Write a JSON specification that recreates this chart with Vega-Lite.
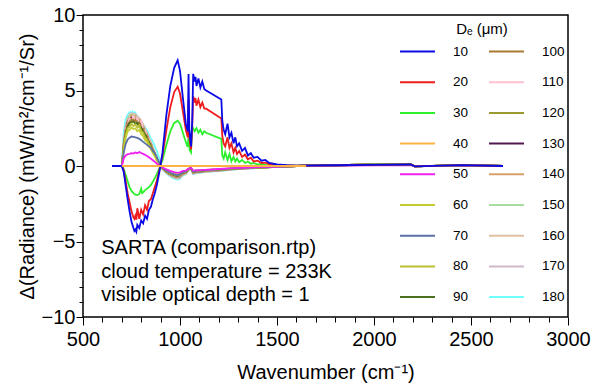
{
"$schema":"https://vega.github.io/schema/vega-lite/v6.json",
"width":485,"height":302,
"autosize":{"type":"none"},
"padding":{"left":83,"top":15,"right":23,"bottom":66},
"config":{"font":"Liberation Sans","view":{"stroke":"black","strokeWidth":1.5},
 "axis":{"grid":false,"domain":false,"ticks":true,"tickColor":"black","tickWidth":1,"tickOpacity":1,"labelColor":"black","labelFontSize":20,"labelOverlap":false,"labelFlush":false,"labelBound":false,"titleFontSize":20,"titleFontWeight":"normal","titleColor":"black"}},
"resolve":{"axis":{"x":"independent","y":"independent"}},
"layer":[
{"data":{"values":[
{"De":"180","wn":650,"dR":0},{"De":"180","wn":700,"dR":0},{"De":"180","wn":705,"dR":1.2},{"De":"180","wn":710,"dR":2.2},{"De":"180","wn":718,"dR":3.0},{"De":"180","wn":730,"dR":3.4},{"De":"180","wn":743,"dR":3.58},{"De":"180","wn":750,"dR":3.45},{"De":"180","wn":755,"dR":3.6},{"De":"180","wn":762,"dR":3.4},{"De":"180","wn":768,"dR":3.55},{"De":"180","wn":780,"dR":3.3},{"De":"180","wn":795,"dR":3.05},{"De":"180","wn":810,"dR":2.75},{"De":"180","wn":830,"dR":2.37},{"De":"180","wn":845,"dR":1.95},{"De":"180","wn":864,"dR":1.5},{"De":"180","wn":880,"dR":1.0},{"De":"180","wn":890,"dR":0.65},{"De":"180","wn":905,"dR":0},{"De":"180","wn":910,"dR":-0.15},{"De":"180","wn":930,"dR":-0.5},{"De":"180","wn":950,"dR":-0.7},{"De":"180","wn":970,"dR":-0.85},{"De":"180","wn":988,"dR":-0.9},{"De":"180","wn":1000,"dR":-0.85},{"De":"180","wn":1015,"dR":-0.62},{"De":"180","wn":1030,"dR":-0.55},{"De":"180","wn":1044,"dR":-0.28},{"De":"180","wn":1057,"dR":-0.2},{"De":"180","wn":1068,"dR":-0.55},{"De":"180","wn":1085,"dR":-0.48},{"De":"180","wn":1100,"dR":-0.45},{"De":"180","wn":1130,"dR":-0.4},{"De":"180","wn":1200,"dR":-0.33},{"De":"180","wn":1250,"dR":-0.27},{"De":"180","wn":1300,"dR":-0.2},{"De":"180","wn":1400,"dR":-0.13},{"De":"180","wn":1500,"dR":-0.06},{"De":"180","wn":1600,"dR":0},{"De":"180","wn":2000,"dR":0.1},{"De":"180","wn":2190,"dR":0.11},{"De":"180","wn":2210,"dR":-0.03},{"De":"180","wn":2450,"dR":0.06},{"De":"180","wn":2665,"dR":0},

{"De":"170","wn":650,"dR":0},{"De":"170","wn":700,"dR":0},{"De":"170","wn":705,"dR":0.72},{"De":"170","wn":710,"dR":1.62},{"De":"170","wn":720,"dR":2.65},{"De":"170","wn":730,"dR":3.15},{"De":"170","wn":740,"dR":3.4},{"De":"170","wn":750,"dR":3.5},{"De":"170","wn":760,"dR":3.48},{"De":"170","wn":770,"dR":3.42},{"De":"170","wn":780,"dR":3.3},{"De":"170","wn":790,"dR":3.15},{"De":"170","wn":800,"dR":3.0},{"De":"170","wn":810,"dR":2.75},{"De":"170","wn":820,"dR":2.47},{"De":"170","wn":830,"dR":2.2},{"De":"170","wn":840,"dR":1.87},{"De":"170","wn":850,"dR":1.55},{"De":"170","wn":860,"dR":1.24},{"De":"170","wn":870,"dR":0.88},{"De":"170","wn":880,"dR":0.57},{"De":"170","wn":895,"dR":0.07},{"De":"170","wn":910,"dR":-0.2},{"De":"170","wn":930,"dR":-0.45},{"De":"170","wn":950,"dR":-0.65},{"De":"170","wn":970,"dR":-0.78},{"De":"170","wn":988,"dR":-0.85},{"De":"170","wn":1000,"dR":-0.78},{"De":"170","wn":1015,"dR":-0.58},{"De":"170","wn":1030,"dR":-0.52},{"De":"170","wn":1044,"dR":-0.26},{"De":"170","wn":1057,"dR":-0.2},{"De":"170","wn":1068,"dR":-0.52},{"De":"170","wn":1085,"dR":-0.45},{"De":"170","wn":1100,"dR":-0.43},{"De":"170","wn":1130,"dR":-0.39},{"De":"170","wn":1200,"dR":-0.32},{"De":"170","wn":1250,"dR":-0.26},{"De":"170","wn":1300,"dR":-0.2},{"De":"170","wn":1400,"dR":-0.13},{"De":"170","wn":1500,"dR":-0.06},{"De":"170","wn":1600,"dR":0},{"De":"170","wn":2000,"dR":0.1},{"De":"170","wn":2190,"dR":0.11},{"De":"170","wn":2210,"dR":-0.03},{"De":"170","wn":2450,"dR":0.06},{"De":"170","wn":2665,"dR":0},

{"De":"160","wn":650,"dR":0},{"De":"160","wn":700,"dR":0},{"De":"160","wn":705,"dR":0.7},{"De":"160","wn":710,"dR":1.6},{"De":"160","wn":720,"dR":2.6},{"De":"160","wn":730,"dR":3.1},{"De":"160","wn":740,"dR":3.35},{"De":"160","wn":750,"dR":3.45},{"De":"160","wn":760,"dR":3.42},{"De":"160","wn":770,"dR":3.35},{"De":"160","wn":780,"dR":3.25},{"De":"160","wn":790,"dR":3.1},{"De":"160","wn":800,"dR":2.95},{"De":"160","wn":810,"dR":2.7},{"De":"160","wn":820,"dR":2.42},{"De":"160","wn":830,"dR":2.15},{"De":"160","wn":840,"dR":1.83},{"De":"160","wn":850,"dR":1.52},{"De":"160","wn":860,"dR":1.22},{"De":"160","wn":870,"dR":0.87},{"De":"160","wn":880,"dR":0.56},{"De":"160","wn":895,"dR":0.07},{"De":"160","wn":910,"dR":-0.19},{"De":"160","wn":930,"dR":-0.44},{"De":"160","wn":950,"dR":-0.62},{"De":"160","wn":970,"dR":-0.75},{"De":"160","wn":988,"dR":-0.81},{"De":"160","wn":1000,"dR":-0.75},{"De":"160","wn":1015,"dR":-0.56},{"De":"160","wn":1030,"dR":-0.5},{"De":"160","wn":1044,"dR":-0.25},{"De":"160","wn":1057,"dR":-0.19},{"De":"160","wn":1068,"dR":-0.5},{"De":"160","wn":1085,"dR":-0.44},{"De":"160","wn":1100,"dR":-0.41},{"De":"160","wn":1130,"dR":-0.37},{"De":"160","wn":1200,"dR":-0.31},{"De":"160","wn":1250,"dR":-0.25},{"De":"160","wn":1300,"dR":-0.19},{"De":"160","wn":1400,"dR":-0.12},{"De":"160","wn":1500,"dR":-0.06},{"De":"160","wn":1600,"dR":0},{"De":"160","wn":2000,"dR":0.1},{"De":"160","wn":2190,"dR":0.11},{"De":"160","wn":2210,"dR":-0.03},{"De":"160","wn":2450,"dR":0.06},{"De":"160","wn":2665,"dR":0},

{"De":"150","wn":650,"dR":0},{"De":"150","wn":700,"dR":0},{"De":"150","wn":705,"dR":0.7},{"De":"150","wn":710,"dR":1.55},{"De":"150","wn":720,"dR":2.55},{"De":"150","wn":730,"dR":3.05},{"De":"150","wn":740,"dR":3.3},{"De":"150","wn":750,"dR":3.4},{"De":"150","wn":760,"dR":3.38},{"De":"150","wn":770,"dR":3.3},{"De":"150","wn":780,"dR":3.2},{"De":"150","wn":790,"dR":3.05},{"De":"150","wn":800,"dR":2.9},{"De":"150","wn":810,"dR":2.65},{"De":"150","wn":820,"dR":2.4},{"De":"150","wn":830,"dR":2.1},{"De":"150","wn":840,"dR":1.8},{"De":"150","wn":850,"dR":1.5},{"De":"150","wn":860,"dR":1.2},{"De":"150","wn":870,"dR":0.85},{"De":"150","wn":880,"dR":0.55},{"De":"150","wn":895,"dR":0.07},{"De":"150","wn":910,"dR":-0.18},{"De":"150","wn":930,"dR":-0.42},{"De":"150","wn":950,"dR":-0.6},{"De":"150","wn":970,"dR":-0.72},{"De":"150","wn":988,"dR":-0.78},{"De":"150","wn":1000,"dR":-0.72},{"De":"150","wn":1015,"dR":-0.54},{"De":"150","wn":1030,"dR":-0.48},{"De":"150","wn":1044,"dR":-0.24},{"De":"150","wn":1057,"dR":-0.18},{"De":"150","wn":1068,"dR":-0.48},{"De":"150","wn":1085,"dR":-0.42},{"De":"150","wn":1100,"dR":-0.4},{"De":"150","wn":1130,"dR":-0.36},{"De":"150","wn":1200,"dR":-0.3},{"De":"150","wn":1250,"dR":-0.24},{"De":"150","wn":1300,"dR":-0.18},{"De":"150","wn":1400,"dR":-0.12},{"De":"150","wn":1500,"dR":-0.06},{"De":"150","wn":1600,"dR":0},{"De":"150","wn":2000,"dR":0.1},{"De":"150","wn":2190,"dR":0.11},{"De":"150","wn":2210,"dR":-0.03},{"De":"150","wn":2450,"dR":0.06},{"De":"150","wn":2665,"dR":0},

{"De":"140","wn":650,"dR":0},{"De":"140","wn":700,"dR":0},{"De":"140","wn":705,"dR":0.66},{"De":"140","wn":710,"dR":1.5},{"De":"140","wn":720,"dR":2.45},{"De":"140","wn":730,"dR":3.0},{"De":"140","wn":740,"dR":3.15},{"De":"140","wn":750,"dR":3.35},{"De":"140","wn":760,"dR":3.2},{"De":"140","wn":770,"dR":3.3},{"De":"140","wn":780,"dR":3.05},{"De":"140","wn":790,"dR":3.1},{"De":"140","wn":800,"dR":2.7},{"De":"140","wn":810,"dR":2.65},{"De":"140","wn":820,"dR":2.25},{"De":"140","wn":830,"dR":2.1},{"De":"140","wn":840,"dR":1.72},{"De":"140","wn":850,"dR":1.5},{"De":"140","wn":860,"dR":1.12},{"De":"140","wn":870,"dR":0.85},{"De":"140","wn":880,"dR":0.52},{"De":"140","wn":895,"dR":0.07},{"De":"140","wn":910,"dR":-0.17},{"De":"140","wn":930,"dR":-0.41},{"De":"140","wn":950,"dR":-0.58},{"De":"140","wn":970,"dR":-0.7},{"De":"140","wn":988,"dR":-0.75},{"De":"140","wn":1000,"dR":-0.7},{"De":"140","wn":1015,"dR":-0.52},{"De":"140","wn":1030,"dR":-0.46},{"De":"140","wn":1044,"dR":-0.23},{"De":"140","wn":1057,"dR":-0.17},{"De":"140","wn":1068,"dR":-0.46},{"De":"140","wn":1085,"dR":-0.41},{"De":"140","wn":1100,"dR":-0.38},{"De":"140","wn":1130,"dR":-0.35},{"De":"140","wn":1200,"dR":-0.29},{"De":"140","wn":1250,"dR":-0.23},{"De":"140","wn":1300,"dR":-0.17},{"De":"140","wn":1400,"dR":-0.12},{"De":"140","wn":1500,"dR":-0.06},{"De":"140","wn":1600,"dR":0},{"De":"140","wn":2000,"dR":0.1},{"De":"140","wn":2190,"dR":0.11},{"De":"140","wn":2210,"dR":-0.03},{"De":"140","wn":2450,"dR":0.06},{"De":"140","wn":2665,"dR":0},

{"De":"130","wn":650,"dR":0},{"De":"130","wn":700,"dR":0},{"De":"130","wn":705,"dR":0.64},{"De":"130","wn":710,"dR":1.44},{"De":"130","wn":720,"dR":2.4},{"De":"130","wn":730,"dR":2.9},{"De":"130","wn":740,"dR":3.1},{"De":"130","wn":750,"dR":3.2},{"De":"130","wn":760,"dR":3.15},{"De":"130","wn":770,"dR":3.1},{"De":"130","wn":780,"dR":3.05},{"De":"130","wn":790,"dR":2.9},{"De":"130","wn":800,"dR":2.75},{"De":"130","wn":810,"dR":2.5},{"De":"130","wn":820,"dR":2.25},{"De":"130","wn":830,"dR":2.0},{"De":"130","wn":840,"dR":1.72},{"De":"130","wn":850,"dR":1.42},{"De":"130","wn":860,"dR":1.13},{"De":"130","wn":870,"dR":0.8},{"De":"130","wn":880,"dR":0.52},{"De":"130","wn":895,"dR":0.06},{"De":"130","wn":910,"dR":-0.17},{"De":"130","wn":930,"dR":-0.39},{"De":"130","wn":950,"dR":-0.56},{"De":"130","wn":970,"dR":-0.67},{"De":"130","wn":988,"dR":-0.73},{"De":"130","wn":1000,"dR":-0.67},{"De":"130","wn":1015,"dR":-0.5},{"De":"130","wn":1030,"dR":-0.45},{"De":"130","wn":1044,"dR":-0.22},{"De":"130","wn":1057,"dR":-0.17},{"De":"130","wn":1068,"dR":-0.45},{"De":"130","wn":1085,"dR":-0.39},{"De":"130","wn":1100,"dR":-0.37},{"De":"130","wn":1130,"dR":-0.34},{"De":"130","wn":1200,"dR":-0.28},{"De":"130","wn":1250,"dR":-0.22},{"De":"130","wn":1300,"dR":-0.17},{"De":"130","wn":1400,"dR":-0.11},{"De":"130","wn":1500,"dR":-0.06},{"De":"130","wn":1600,"dR":0},{"De":"130","wn":2000,"dR":0.1},{"De":"130","wn":2190,"dR":0.11},{"De":"130","wn":2210,"dR":-0.03},{"De":"130","wn":2450,"dR":0.06},{"De":"130","wn":2665,"dR":0},

{"De":"120","wn":650,"dR":0},{"De":"120","wn":700,"dR":0},{"De":"120","wn":705,"dR":0.62},{"De":"120","wn":710,"dR":1.38},{"De":"120","wn":720,"dR":2.3},{"De":"120","wn":730,"dR":2.75},{"De":"120","wn":740,"dR":3.05},{"De":"120","wn":750,"dR":3.0},{"De":"120","wn":760,"dR":3.1},{"De":"120","wn":770,"dR":2.95},{"De":"120","wn":780,"dR":3.0},{"De":"120","wn":790,"dR":2.75},{"De":"120","wn":800,"dR":2.7},{"De":"120","wn":810,"dR":2.4},{"De":"120","wn":820,"dR":2.2},{"De":"120","wn":830,"dR":1.9},{"De":"120","wn":840,"dR":1.7},{"De":"120","wn":850,"dR":1.35},{"De":"120","wn":860,"dR":1.12},{"De":"120","wn":870,"dR":0.78},{"De":"120","wn":880,"dR":0.52},{"De":"120","wn":895,"dR":0.06},{"De":"120","wn":910,"dR":-0.16},{"De":"120","wn":930,"dR":-0.38},{"De":"120","wn":950,"dR":-0.54},{"De":"120","wn":970,"dR":-0.65},{"De":"120","wn":988,"dR":-0.7},{"De":"120","wn":1000,"dR":-0.65},{"De":"120","wn":1015,"dR":-0.49},{"De":"120","wn":1030,"dR":-0.43},{"De":"120","wn":1044,"dR":-0.22},{"De":"120","wn":1057,"dR":-0.16},{"De":"120","wn":1068,"dR":-0.43},{"De":"120","wn":1085,"dR":-0.38},{"De":"120","wn":1100,"dR":-0.36},{"De":"120","wn":1130,"dR":-0.32},{"De":"120","wn":1200,"dR":-0.27},{"De":"120","wn":1250,"dR":-0.22},{"De":"120","wn":1300,"dR":-0.16},{"De":"120","wn":1400,"dR":-0.11},{"De":"120","wn":1500,"dR":-0.05},{"De":"120","wn":1600,"dR":0},{"De":"120","wn":2000,"dR":0.1},{"De":"120","wn":2190,"dR":0.11},{"De":"120","wn":2210,"dR":-0.03},{"De":"120","wn":2450,"dR":0.06},{"De":"120","wn":2665,"dR":0},

{"De":"110","wn":650,"dR":0},{"De":"110","wn":700,"dR":0},{"De":"110","wn":705,"dR":0.65},{"De":"110","wn":710,"dR":1.45},{"De":"110","wn":720,"dR":2.45},{"De":"110","wn":730,"dR":2.85},{"De":"110","wn":740,"dR":3.15},{"De":"110","wn":750,"dR":3.05},{"De":"110","wn":760,"dR":3.3},{"De":"110","wn":770,"dR":3.0},{"De":"110","wn":780,"dR":3.2},{"De":"110","wn":790,"dR":2.85},{"De":"110","wn":800,"dR":3.0},{"De":"110","wn":810,"dR":2.45},{"De":"110","wn":820,"dR":2.35},{"De":"110","wn":830,"dR":1.95},{"De":"110","wn":840,"dR":1.8},{"De":"110","wn":850,"dR":1.4},{"De":"110","wn":860,"dR":1.2},{"De":"110","wn":870,"dR":0.8},{"De":"110","wn":880,"dR":0.55},{"De":"110","wn":895,"dR":0.06},{"De":"110","wn":910,"dR":-0.17},{"De":"110","wn":930,"dR":-0.38},{"De":"110","wn":950,"dR":-0.55},{"De":"110","wn":970,"dR":-0.66},{"De":"110","wn":988,"dR":-0.72},{"De":"110","wn":1000,"dR":-0.66},{"De":"110","wn":1015,"dR":-0.5},{"De":"110","wn":1030,"dR":-0.44},{"De":"110","wn":1044,"dR":-0.22},{"De":"110","wn":1057,"dR":-0.17},{"De":"110","wn":1068,"dR":-0.44},{"De":"110","wn":1085,"dR":-0.39},{"De":"110","wn":1100,"dR":-0.36},{"De":"110","wn":1130,"dR":-0.33},{"De":"110","wn":1200,"dR":-0.28},{"De":"110","wn":1250,"dR":-0.22},{"De":"110","wn":1300,"dR":-0.17},{"De":"110","wn":1400,"dR":-0.11},{"De":"110","wn":1500,"dR":-0.06},{"De":"110","wn":1600,"dR":0},{"De":"110","wn":2000,"dR":0.11},{"De":"110","wn":2190,"dR":0.12},{"De":"110","wn":2210,"dR":-0.03},{"De":"110","wn":2450,"dR":0.07},{"De":"110","wn":2665,"dR":0},

{"De":"100","wn":650,"dR":0},{"De":"100","wn":700,"dR":0},{"De":"100","wn":705,"dR":0.6},{"De":"100","wn":710,"dR":1.4},{"De":"100","wn":720,"dR":2.25},{"De":"100","wn":730,"dR":2.8},{"De":"100","wn":740,"dR":2.9},{"De":"100","wn":750,"dR":3.1},{"De":"100","wn":760,"dR":2.95},{"De":"100","wn":770,"dR":3.05},{"De":"100","wn":780,"dR":2.8},{"De":"100","wn":790,"dR":2.9},{"De":"100","wn":800,"dR":2.5},{"De":"100","wn":810,"dR":2.45},{"De":"100","wn":820,"dR":2.1},{"De":"100","wn":830,"dR":1.95},{"De":"100","wn":840,"dR":1.6},{"De":"100","wn":850,"dR":1.4},{"De":"100","wn":860,"dR":1.05},{"De":"100","wn":870,"dR":0.8},{"De":"100","wn":880,"dR":0.48},{"De":"100","wn":895,"dR":0.06},{"De":"100","wn":910,"dR":-0.16},{"De":"100","wn":930,"dR":-0.37},{"De":"100","wn":950,"dR":-0.52},{"De":"100","wn":970,"dR":-0.63},{"De":"100","wn":988,"dR":-0.68},{"De":"100","wn":1000,"dR":-0.63},{"De":"100","wn":1015,"dR":-0.47},{"De":"100","wn":1030,"dR":-0.42},{"De":"100","wn":1044,"dR":-0.21},{"De":"100","wn":1057,"dR":-0.16},{"De":"100","wn":1068,"dR":-0.42},{"De":"100","wn":1085,"dR":-0.37},{"De":"100","wn":1100,"dR":-0.35},{"De":"100","wn":1130,"dR":-0.31},{"De":"100","wn":1200,"dR":-0.26},{"De":"100","wn":1250,"dR":-0.21},{"De":"100","wn":1300,"dR":-0.16},{"De":"100","wn":1400,"dR":-0.1},{"De":"100","wn":1500,"dR":-0.05},{"De":"100","wn":1600,"dR":0},{"De":"100","wn":2000,"dR":0.1},{"De":"100","wn":2190,"dR":0.11},{"De":"100","wn":2210,"dR":-0.03},{"De":"100","wn":2450,"dR":0.07},{"De":"100","wn":2665,"dR":0},

{"De":"90","wn":650,"dR":0},{"De":"90","wn":700,"dR":0},{"De":"90","wn":705,"dR":0.58},{"De":"90","wn":710,"dR":1.3},{"De":"90","wn":720,"dR":2.2},{"De":"90","wn":730,"dR":2.6},{"De":"90","wn":740,"dR":2.85},{"De":"90","wn":750,"dR":2.9},{"De":"90","wn":760,"dR":2.95},{"De":"90","wn":770,"dR":2.8},{"De":"90","wn":780,"dR":2.85},{"De":"90","wn":790,"dR":2.6},{"De":"90","wn":800,"dR":2.55},{"De":"90","wn":810,"dR":2.25},{"De":"90","wn":820,"dR":2.1},{"De":"90","wn":830,"dR":1.8},{"De":"90","wn":840,"dR":1.6},{"De":"90","wn":850,"dR":1.28},{"De":"90","wn":860,"dR":1.05},{"De":"90","wn":870,"dR":0.72},{"De":"90","wn":880,"dR":0.48},{"De":"90","wn":895,"dR":0.06},{"De":"90","wn":910,"dR":-0.15},{"De":"90","wn":930,"dR":-0.35},{"De":"90","wn":950,"dR":-0.5},{"De":"90","wn":970,"dR":-0.6},{"De":"90","wn":988,"dR":-0.65},{"De":"90","wn":1000,"dR":-0.6},{"De":"90","wn":1015,"dR":-0.45},{"De":"90","wn":1030,"dR":-0.4},{"De":"90","wn":1044,"dR":-0.2},{"De":"90","wn":1057,"dR":-0.15},{"De":"90","wn":1068,"dR":-0.4},{"De":"90","wn":1085,"dR":-0.35},{"De":"90","wn":1100,"dR":-0.33},{"De":"90","wn":1130,"dR":-0.3},{"De":"90","wn":1200,"dR":-0.25},{"De":"90","wn":1250,"dR":-0.2},{"De":"90","wn":1300,"dR":-0.15},{"De":"90","wn":1400,"dR":-0.1},{"De":"90","wn":1500,"dR":-0.05},{"De":"90","wn":1600,"dR":0},{"De":"90","wn":2000,"dR":0.1},{"De":"90","wn":2190,"dR":0.12},{"De":"90","wn":2210,"dR":-0.03},{"De":"90","wn":2450,"dR":0.06},{"De":"90","wn":2665,"dR":0},

{"De":"80","wn":650,"dR":0},{"De":"80","wn":700,"dR":0},{"De":"80","wn":705,"dR":0.55},{"De":"80","wn":710,"dR":1.25},{"De":"80","wn":720,"dR":2.05},{"De":"80","wn":730,"dR":2.5},{"De":"80","wn":740,"dR":2.6},{"De":"80","wn":750,"dR":2.8},{"De":"80","wn":760,"dR":2.65},{"De":"80","wn":770,"dR":2.75},{"De":"80","wn":780,"dR":2.55},{"De":"80","wn":790,"dR":2.7},{"De":"80","wn":800,"dR":2.3},{"De":"80","wn":810,"dR":2.2},{"De":"80","wn":820,"dR":1.9},{"De":"80","wn":830,"dR":1.75},{"De":"80","wn":840,"dR":1.45},{"De":"80","wn":850,"dR":1.25},{"De":"80","wn":860,"dR":0.95},{"De":"80","wn":870,"dR":0.7},{"De":"80","wn":880,"dR":0.42},{"De":"80","wn":895,"dR":0.05},{"De":"80","wn":910,"dR":-0.14},{"De":"80","wn":930,"dR":-0.33},{"De":"80","wn":950,"dR":-0.48},{"De":"80","wn":970,"dR":-0.57},{"De":"80","wn":988,"dR":-0.62},{"De":"80","wn":1000,"dR":-0.57},{"De":"80","wn":1015,"dR":-0.43},{"De":"80","wn":1030,"dR":-0.38},{"De":"80","wn":1044,"dR":-0.19},{"De":"80","wn":1057,"dR":-0.14},{"De":"80","wn":1068,"dR":-0.38},{"De":"80","wn":1085,"dR":-0.33},{"De":"80","wn":1100,"dR":-0.31},{"De":"80","wn":1130,"dR":-0.28},{"De":"80","wn":1200,"dR":-0.24},{"De":"80","wn":1250,"dR":-0.19},{"De":"80","wn":1300,"dR":-0.14},{"De":"80","wn":1400,"dR":-0.1},{"De":"80","wn":1500,"dR":-0.05},{"De":"80","wn":1600,"dR":0},{"De":"80","wn":2000,"dR":0.1},{"De":"80","wn":2190,"dR":0.1},{"De":"80","wn":2210,"dR":-0.03},{"De":"80","wn":2450,"dR":0.06},{"De":"80","wn":2665,"dR":0},

{"De":"60","wn":650,"dR":0},{"De":"60","wn":700,"dR":0},{"De":"60","wn":705,"dR":0.5},{"De":"60","wn":710,"dR":1.15},{"De":"60","wn":720,"dR":1.85},{"De":"60","wn":730,"dR":2.3},{"De":"60","wn":740,"dR":2.4},{"De":"60","wn":750,"dR":2.55},{"De":"60","wn":760,"dR":2.45},{"De":"60","wn":770,"dR":2.5},{"De":"60","wn":780,"dR":2.3},{"De":"60","wn":790,"dR":2.4},{"De":"60","wn":800,"dR":2.1},{"De":"60","wn":810,"dR":2.0},{"De":"60","wn":820,"dR":1.7},{"De":"60","wn":830,"dR":1.6},{"De":"60","wn":840,"dR":1.3},{"De":"60","wn":850,"dR":1.12},{"De":"60","wn":860,"dR":0.85},{"De":"60","wn":870,"dR":0.65},{"De":"60","wn":880,"dR":0.38},{"De":"60","wn":895,"dR":0.05},{"De":"60","wn":910,"dR":-0.13},{"De":"60","wn":930,"dR":-0.3},{"De":"60","wn":950,"dR":-0.43},{"De":"60","wn":970,"dR":-0.51},{"De":"60","wn":988,"dR":-0.55},{"De":"60","wn":1000,"dR":-0.51},{"De":"60","wn":1015,"dR":-0.38},{"De":"60","wn":1030,"dR":-0.34},{"De":"60","wn":1044,"dR":-0.17},{"De":"60","wn":1057,"dR":-0.13},{"De":"60","wn":1068,"dR":-0.34},{"De":"60","wn":1085,"dR":-0.3},{"De":"60","wn":1100,"dR":-0.28},{"De":"60","wn":1130,"dR":-0.26},{"De":"60","wn":1200,"dR":-0.21},{"De":"60","wn":1250,"dR":-0.17},{"De":"60","wn":1300,"dR":-0.13},{"De":"60","wn":1400,"dR":-0.09},{"De":"60","wn":1500,"dR":-0.04},{"De":"60","wn":1600,"dR":0},{"De":"60","wn":2000,"dR":0.08},{"De":"60","wn":2190,"dR":0.08},{"De":"60","wn":2210,"dR":-0.03},{"De":"60","wn":2450,"dR":0.05},{"De":"60","wn":2665,"dR":0},

{"De":"70","wn":650,"dR":0},{"De":"70","wn":700,"dR":0},{"De":"70","wn":705,"dR":0.4},{"De":"70","wn":710,"dR":0.9},{"De":"70","wn":720,"dR":1.45},{"De":"70","wn":730,"dR":1.75},{"De":"70","wn":740,"dR":1.88},{"De":"70","wn":750,"dR":1.95},{"De":"70","wn":760,"dR":1.93},{"De":"70","wn":770,"dR":1.9},{"De":"70","wn":780,"dR":1.86},{"De":"70","wn":790,"dR":1.8},{"De":"70","wn":800,"dR":1.7},{"De":"70","wn":810,"dR":1.6},{"De":"70","wn":820,"dR":1.5},{"De":"70","wn":830,"dR":1.4},{"De":"70","wn":840,"dR":1.3},{"De":"70","wn":850,"dR":1.2},{"De":"70","wn":860,"dR":1.0},{"De":"70","wn":870,"dR":0.85},{"De":"70","wn":880,"dR":0.6},{"De":"70","wn":895,"dR":0.15},{"De":"70","wn":910,"dR":-0.13},{"De":"70","wn":930,"dR":-0.32},{"De":"70","wn":950,"dR":-0.45},{"De":"70","wn":970,"dR":-0.55},{"De":"70","wn":988,"dR":-0.6},{"De":"70","wn":1000,"dR":-0.55},{"De":"70","wn":1015,"dR":-0.4},{"De":"70","wn":1030,"dR":-0.36},{"De":"70","wn":1044,"dR":-0.18},{"De":"70","wn":1057,"dR":-0.14},{"De":"70","wn":1068,"dR":-0.36},{"De":"70","wn":1085,"dR":-0.32},{"De":"70","wn":1100,"dR":-0.3},{"De":"70","wn":1130,"dR":-0.27},{"De":"70","wn":1200,"dR":-0.22},{"De":"70","wn":1250,"dR":-0.18},{"De":"70","wn":1300,"dR":-0.14},{"De":"70","wn":1400,"dR":-0.09},{"De":"70","wn":1500,"dR":-0.05},{"De":"70","wn":1600,"dR":0},{"De":"70","wn":2000,"dR":0.09},{"De":"70","wn":2190,"dR":0.09},{"De":"70","wn":2210,"dR":-0.03},{"De":"70","wn":2450,"dR":0.05},{"De":"70","wn":2665,"dR":0},

{"De":"50","wn":650,"dR":0},{"De":"50","wn":700,"dR":0},{"De":"50","wn":705,"dR":0.25},{"De":"50","wn":710,"dR":0.5},{"De":"50","wn":720,"dR":0.7},{"De":"50","wn":730,"dR":0.78},{"De":"50","wn":740,"dR":0.8},{"De":"50","wn":750,"dR":0.85},{"De":"50","wn":760,"dR":0.82},{"De":"50","wn":770,"dR":0.9},{"De":"50","wn":780,"dR":0.85},{"De":"50","wn":790,"dR":0.93},{"De":"50","wn":800,"dR":0.86},{"De":"50","wn":810,"dR":0.8},{"De":"50","wn":820,"dR":0.74},{"De":"50","wn":830,"dR":0.66},{"De":"50","wn":840,"dR":0.58},{"De":"50","wn":850,"dR":0.48},{"De":"50","wn":860,"dR":0.38},{"De":"50","wn":870,"dR":0.28},{"De":"50","wn":880,"dR":0.16},{"De":"50","wn":895,"dR":0.02},{"De":"50","wn":910,"dR":-0.1},{"De":"50","wn":930,"dR":-0.22},{"De":"50","wn":950,"dR":-0.32},{"De":"50","wn":970,"dR":-0.4},{"De":"50","wn":988,"dR":-0.45},{"De":"50","wn":1000,"dR":-0.42},{"De":"50","wn":1015,"dR":-0.33},{"De":"50","wn":1030,"dR":-0.3},{"De":"50","wn":1044,"dR":-0.18},{"De":"50","wn":1057,"dR":-0.12},{"De":"50","wn":1068,"dR":-0.3},{"De":"50","wn":1085,"dR":-0.28},{"De":"50","wn":1100,"dR":-0.27},{"De":"50","wn":1130,"dR":-0.25},{"De":"50","wn":1200,"dR":-0.2},{"De":"50","wn":1250,"dR":-0.16},{"De":"50","wn":1300,"dR":-0.12},{"De":"50","wn":1400,"dR":-0.08},{"De":"50","wn":1500,"dR":-0.04},{"De":"50","wn":1600,"dR":0},{"De":"50","wn":2000,"dR":0.05},{"De":"50","wn":2190,"dR":0.06},{"De":"50","wn":2210,"dR":-0.02},{"De":"50","wn":2450,"dR":0.04},{"De":"50","wn":2665,"dR":0},

{"De":"30","wn":650,"dR":0},{"De":"30","wn":700,"dR":0},{"De":"30","wn":710,"dR":-0.2},{"De":"30","wn":720,"dR":-0.6},{"De":"30","wn":730,"dR":-1.0},{"De":"30","wn":740,"dR":-1.4},{"De":"30","wn":750,"dR":-1.65},{"De":"30","wn":760,"dR":-1.8},{"De":"30","wn":770,"dR":-1.9},{"De":"30","wn":780,"dR":-1.93},{"De":"30","wn":790,"dR":-1.85},{"De":"30","wn":800,"dR":-1.5},{"De":"30","wn":805,"dR":-1.8},{"De":"30","wn":810,"dR":-1.75},{"De":"30","wn":820,"dR":-1.6},{"De":"30","wn":830,"dR":-1.5},{"De":"30","wn":840,"dR":-1.4},{"De":"30","wn":850,"dR":-1.25},{"De":"30","wn":860,"dR":-1.05},{"De":"30","wn":870,"dR":-0.8},{"De":"30","wn":880,"dR":-0.55},{"De":"30","wn":895,"dR":-0.1},{"De":"30","wn":910,"dR":0.4},{"De":"30","wn":930,"dR":1.4},{"De":"30","wn":950,"dR":2.3},{"De":"30","wn":970,"dR":2.85},{"De":"30","wn":988,"dR":3.0},{"De":"30","wn":1000,"dR":2.8},{"De":"30","wn":1010,"dR":2.4},{"De":"30","wn":1027,"dR":1.7},{"De":"30","wn":1039,"dR":1.27},{"De":"30","wn":1044,"dR":1.9},{"De":"30","wn":1050,"dR":1.05},{"De":"30","wn":1057,"dR":0.9},{"De":"30","wn":1062,"dR":2.6},{"De":"30","wn":1068,"dR":2.5},{"De":"30","wn":1075,"dR":2.3},{"De":"30","wn":1085,"dR":2.5},{"De":"30","wn":1095,"dR":2.2},{"De":"30","wn":1105,"dR":2.4},{"De":"30","wn":1115,"dR":2.1},{"De":"30","wn":1125,"dR":2.3},{"De":"30","wn":1135,"dR":2.2},{"De":"30","wn":1213,"dR":1.8},{"De":"30","wn":1218,"dR":0.7},{"De":"30","wn":1225,"dR":0.5},{"De":"30","wn":1233,"dR":0.9},{"De":"30","wn":1245,"dR":0.4},{"De":"30","wn":1255,"dR":0.8},{"De":"30","wn":1265,"dR":0.3},{"De":"30","wn":1276,"dR":0.6},{"De":"30","wn":1285,"dR":0.3},{"De":"30","wn":1294,"dR":0.5},{"De":"30","wn":1305,"dR":0.25},{"De":"30","wn":1320,"dR":0.4},{"De":"30","wn":1335,"dR":0.2},{"De":"30","wn":1350,"dR":0.3},{"De":"30","wn":1365,"dR":0.15},{"De":"30","wn":1380,"dR":0.2},{"De":"30","wn":1400,"dR":0.1},{"De":"30","wn":1420,"dR":0.12},{"De":"30","wn":1440,"dR":0.08},{"De":"30","wn":1460,"dR":0.05},{"De":"30","wn":1500,"dR":0.03},{"De":"30","wn":1600,"dR":0.02},{"De":"30","wn":1800,"dR":0.05},{"De":"30","wn":2000,"dR":0.08},{"De":"30","wn":2190,"dR":0.1},{"De":"30","wn":2210,"dR":-0.02},{"De":"30","wn":2450,"dR":0.06},{"De":"30","wn":2665,"dR":0},

{"De":"20","wn":650,"dR":0},{"De":"20","wn":700,"dR":0},{"De":"20","wn":710,"dR":-0.3},{"De":"20","wn":720,"dR":-1.0},{"De":"20","wn":730,"dR":-1.8},{"De":"20","wn":740,"dR":-2.4},{"De":"20","wn":750,"dR":-3.0},{"De":"20","wn":760,"dR":-3.4},{"De":"20","wn":765,"dR":-3.5},{"De":"20","wn":770,"dR":-3.3},{"De":"20","wn":775,"dR":-3.55},{"De":"20","wn":780,"dR":-2.8},{"De":"20","wn":790,"dR":-3.5},{"De":"20","wn":800,"dR":-2.9},{"De":"20","wn":810,"dR":-3.2},{"De":"20","wn":820,"dR":-2.6},{"De":"20","wn":830,"dR":-2.9},{"De":"20","wn":840,"dR":-2.3},{"De":"20","wn":850,"dR":-2.2},{"De":"20","wn":860,"dR":-1.8},{"De":"20","wn":870,"dR":-1.4},{"De":"20","wn":880,"dR":-1.0},{"De":"20","wn":895,"dR":-0.2},{"De":"20","wn":910,"dR":0.7},{"De":"20","wn":930,"dR":2.4},{"De":"20","wn":950,"dR":3.9},{"De":"20","wn":970,"dR":4.9},{"De":"20","wn":988,"dR":5.25},{"De":"20","wn":1000,"dR":4.8},{"De":"20","wn":1015,"dR":3.6},{"De":"20","wn":1030,"dR":2.4},{"De":"20","wn":1040,"dR":1.9},{"De":"20","wn":1044,"dR":4.4},{"De":"20","wn":1048,"dR":1.9},{"De":"20","wn":1057,"dR":1.1},{"De":"20","wn":1063,"dR":2.6},{"De":"20","wn":1068,"dR":4.6},{"De":"20","wn":1075,"dR":4.2},{"De":"20","wn":1080,"dR":4.5},{"De":"20","wn":1085,"dR":4.0},{"De":"20","wn":1095,"dR":4.4},{"De":"20","wn":1105,"dR":3.9},{"De":"20","wn":1115,"dR":4.2},{"De":"20","wn":1125,"dR":3.8},{"De":"20","wn":1135,"dR":3.8},{"De":"20","wn":1213,"dR":3.15},{"De":"20","wn":1218,"dR":2.0},{"De":"20","wn":1225,"dR":1.5},{"De":"20","wn":1233,"dR":1.3},{"De":"20","wn":1245,"dR":1.9},{"De":"20","wn":1255,"dR":1.2},{"De":"20","wn":1265,"dR":1.5},{"De":"20","wn":1276,"dR":0.9},{"De":"20","wn":1285,"dR":1.2},{"De":"20","wn":1294,"dR":0.8},{"De":"20","wn":1305,"dR":1.0},{"De":"20","wn":1320,"dR":0.6},{"De":"20","wn":1335,"dR":0.75},{"De":"20","wn":1350,"dR":0.45},{"De":"20","wn":1365,"dR":0.55},{"De":"20","wn":1380,"dR":0.3},{"De":"20","wn":1400,"dR":0.35},{"De":"20","wn":1420,"dR":0.2},{"De":"20","wn":1440,"dR":0.22},{"De":"20","wn":1460,"dR":0.12},{"De":"20","wn":1500,"dR":0.06},{"De":"20","wn":1600,"dR":0.02},{"De":"20","wn":1800,"dR":0.05},{"De":"20","wn":2000,"dR":0.08},{"De":"20","wn":2190,"dR":0.1},{"De":"20","wn":2210,"dR":-0.02},{"De":"20","wn":2450,"dR":0.06},{"De":"20","wn":2665,"dR":0},

{"De":"10","wn":650,"dR":0},{"De":"10","wn":700,"dR":0},{"De":"10","wn":710,"dR":-0.4},{"De":"10","wn":720,"dR":-1.3},{"De":"10","wn":730,"dR":-2.2},{"De":"10","wn":740,"dR":-3.0},{"De":"10","wn":750,"dR":-3.7},{"De":"10","wn":760,"dR":-4.1},{"De":"10","wn":765,"dR":-4.3},{"De":"10","wn":770,"dR":-4.2},{"De":"10","wn":775,"dR":-4.35},{"De":"10","wn":780,"dR":-3.9},{"De":"10","wn":790,"dR":-4.1},{"De":"10","wn":800,"dR":-3.6},{"De":"10","wn":810,"dR":-3.8},{"De":"10","wn":820,"dR":-3.3},{"De":"10","wn":830,"dR":-3.5},{"De":"10","wn":840,"dR":-2.9},{"De":"10","wn":850,"dR":-2.7},{"De":"10","wn":860,"dR":-2.2},{"De":"10","wn":870,"dR":-1.8},{"De":"10","wn":880,"dR":-1.3},{"De":"10","wn":895,"dR":-0.3},{"De":"10","wn":910,"dR":0.9},{"De":"10","wn":930,"dR":3.4},{"De":"10","wn":950,"dR":5.3},{"De":"10","wn":970,"dR":6.5},{"De":"10","wn":988,"dR":7.0},{"De":"10","wn":1000,"dR":6.3},{"De":"10","wn":1015,"dR":4.5},{"De":"10","wn":1030,"dR":2.8},{"De":"10","wn":1040,"dR":2.3},{"De":"10","wn":1044,"dR":6.1},{"De":"10","wn":1048,"dR":2.4},{"De":"10","wn":1057,"dR":1.3},{"De":"10","wn":1063,"dR":3.0},{"De":"10","wn":1068,"dR":6.1},{"De":"10","wn":1075,"dR":5.6},{"De":"10","wn":1080,"dR":5.9},{"De":"10","wn":1085,"dR":5.3},{"De":"10","wn":1095,"dR":5.8},{"De":"10","wn":1105,"dR":5.2},{"De":"10","wn":1115,"dR":5.6},{"De":"10","wn":1125,"dR":5.1},{"De":"10","wn":1135,"dR":5.0},{"De":"10","wn":1213,"dR":4.4},{"De":"10","wn":1218,"dR":3.0},{"De":"10","wn":1225,"dR":2.4},{"De":"10","wn":1233,"dR":2.1},{"De":"10","wn":1245,"dR":2.8},{"De":"10","wn":1255,"dR":1.9},{"De":"10","wn":1265,"dR":2.2},{"De":"10","wn":1276,"dR":1.5},{"De":"10","wn":1285,"dR":1.9},{"De":"10","wn":1294,"dR":1.3},{"De":"10","wn":1305,"dR":1.5},{"De":"10","wn":1320,"dR":1.0},{"De":"10","wn":1335,"dR":1.2},{"De":"10","wn":1350,"dR":0.7},{"De":"10","wn":1365,"dR":0.85},{"De":"10","wn":1380,"dR":0.55},{"De":"10","wn":1400,"dR":0.6},{"De":"10","wn":1420,"dR":0.35},{"De":"10","wn":1440,"dR":0.4},{"De":"10","wn":1460,"dR":0.2},{"De":"10","wn":1500,"dR":0.1},{"De":"10","wn":1550,"dR":0.05},{"De":"10","wn":1600,"dR":0.03},{"De":"10","wn":1800,"dR":0.05},{"De":"10","wn":2000,"dR":0.08},{"De":"10","wn":2190,"dR":0.1},{"De":"10","wn":2210,"dR":-0.02},{"De":"10","wn":2450,"dR":0.06},{"De":"10","wn":2665,"dR":0},

{"De":"40","wn":700,"dR":0},{"De":"40","wn":900,"dR":0},{"De":"40","wn":1100,"dR":0},{"De":"40","wn":1300,"dR":0},{"De":"40","wn":1500,"dR":0},{"De":"40","wn":1650,"dR":0}
]},
"mark":{"type":"line","strokeWidth":1.8,"clip":true},
"encoding":{
"x":{"field":"wn","type":"quantitative","scale":{"domain":[500,3000],"nice":false},
 "axis":{"orient":"bottom","title":"Wavenumber (cm⁻¹)","values":[500,600,700,800,900,1000,1100,1200,1300,1400,1500,1600,1700,1800,1900,2000,2100,2200,2300,2400,2500,2600,2700,2800,2900,3000],"labelExpr":"datum.value % 500 === 0 ? datum.label : ''","format":"d","tickSize":{"condition":{"test":"datum.value % 500 === 0","value":8},"value":5},"labelPadding":4,"labelOverlap":false,"titlePadding":13}},
"y":{"field":"dR","type":"quantitative","scale":{"domain":[-10,10],"nice":false},
 "axis":{"orient":"left","title":"Δ(Radiance) (mW/m²/cm⁻¹/Sr)","values":[-10,-9,-8,-7,-6,-5,-4,-3,-2,-1,0,1,2,3,4,5,6,7,8,9,10],"labelExpr":"datum.value % 5 === 0 ? datum.label : ''","tickSize":{"condition":{"test":"datum.value % 5 === 0","value":7},"value":4},"labelPadding":1,"labelOverlap":false,"titlePadding":4}},
"color":{"field":"De","type":"nominal",
 "scale":{"domain":["10","20","30","40","50","60","70","80","90","100","110","120","130","140","150","160","170","180"],
  "range":["#0a0ae6","#ee1c1c","#2cf02c","#ffb347","#f020f0","#c4cc30","#5a70a8","#b8c030","#4a7020","#a87a30","#ffc0d0","#9a9a30","#501850","#d8a068","#a8dca0","#e0c0a0","#d0b8cc","#70ffff"]},
 "legend":{"orient":"none","legendX":316,"legendY":7,"columns":2,"title":"Dₑ (μm)","titleFontSize":15,"titleFontWeight":"normal","titleColor":"black","titleAnchor":"middle","titlePadding":-4,"labelFontSize":13.5,"labelColor":"black","symbolType":"stroke","symbolSize":1225,"symbolStrokeWidth":2,"labelOffset":17,"columnPadding":16,"rowPadding":5.7}}
}},
{"data":{"values":[{}]},
"mark":{"type":"text","align":"left","baseline":"top","fontSize":20,"lineHeight":23.5,"color":"black"},
"encoding":{"x":{"datum":594,"type":"quantitative","axis":null},"y":{"datum":-4.78,"type":"quantitative","axis":null},"text":{"value":["SARTA (comparison.rtp)","cloud temperature = 233K","visible optical depth = 1"]}}}
]
}
